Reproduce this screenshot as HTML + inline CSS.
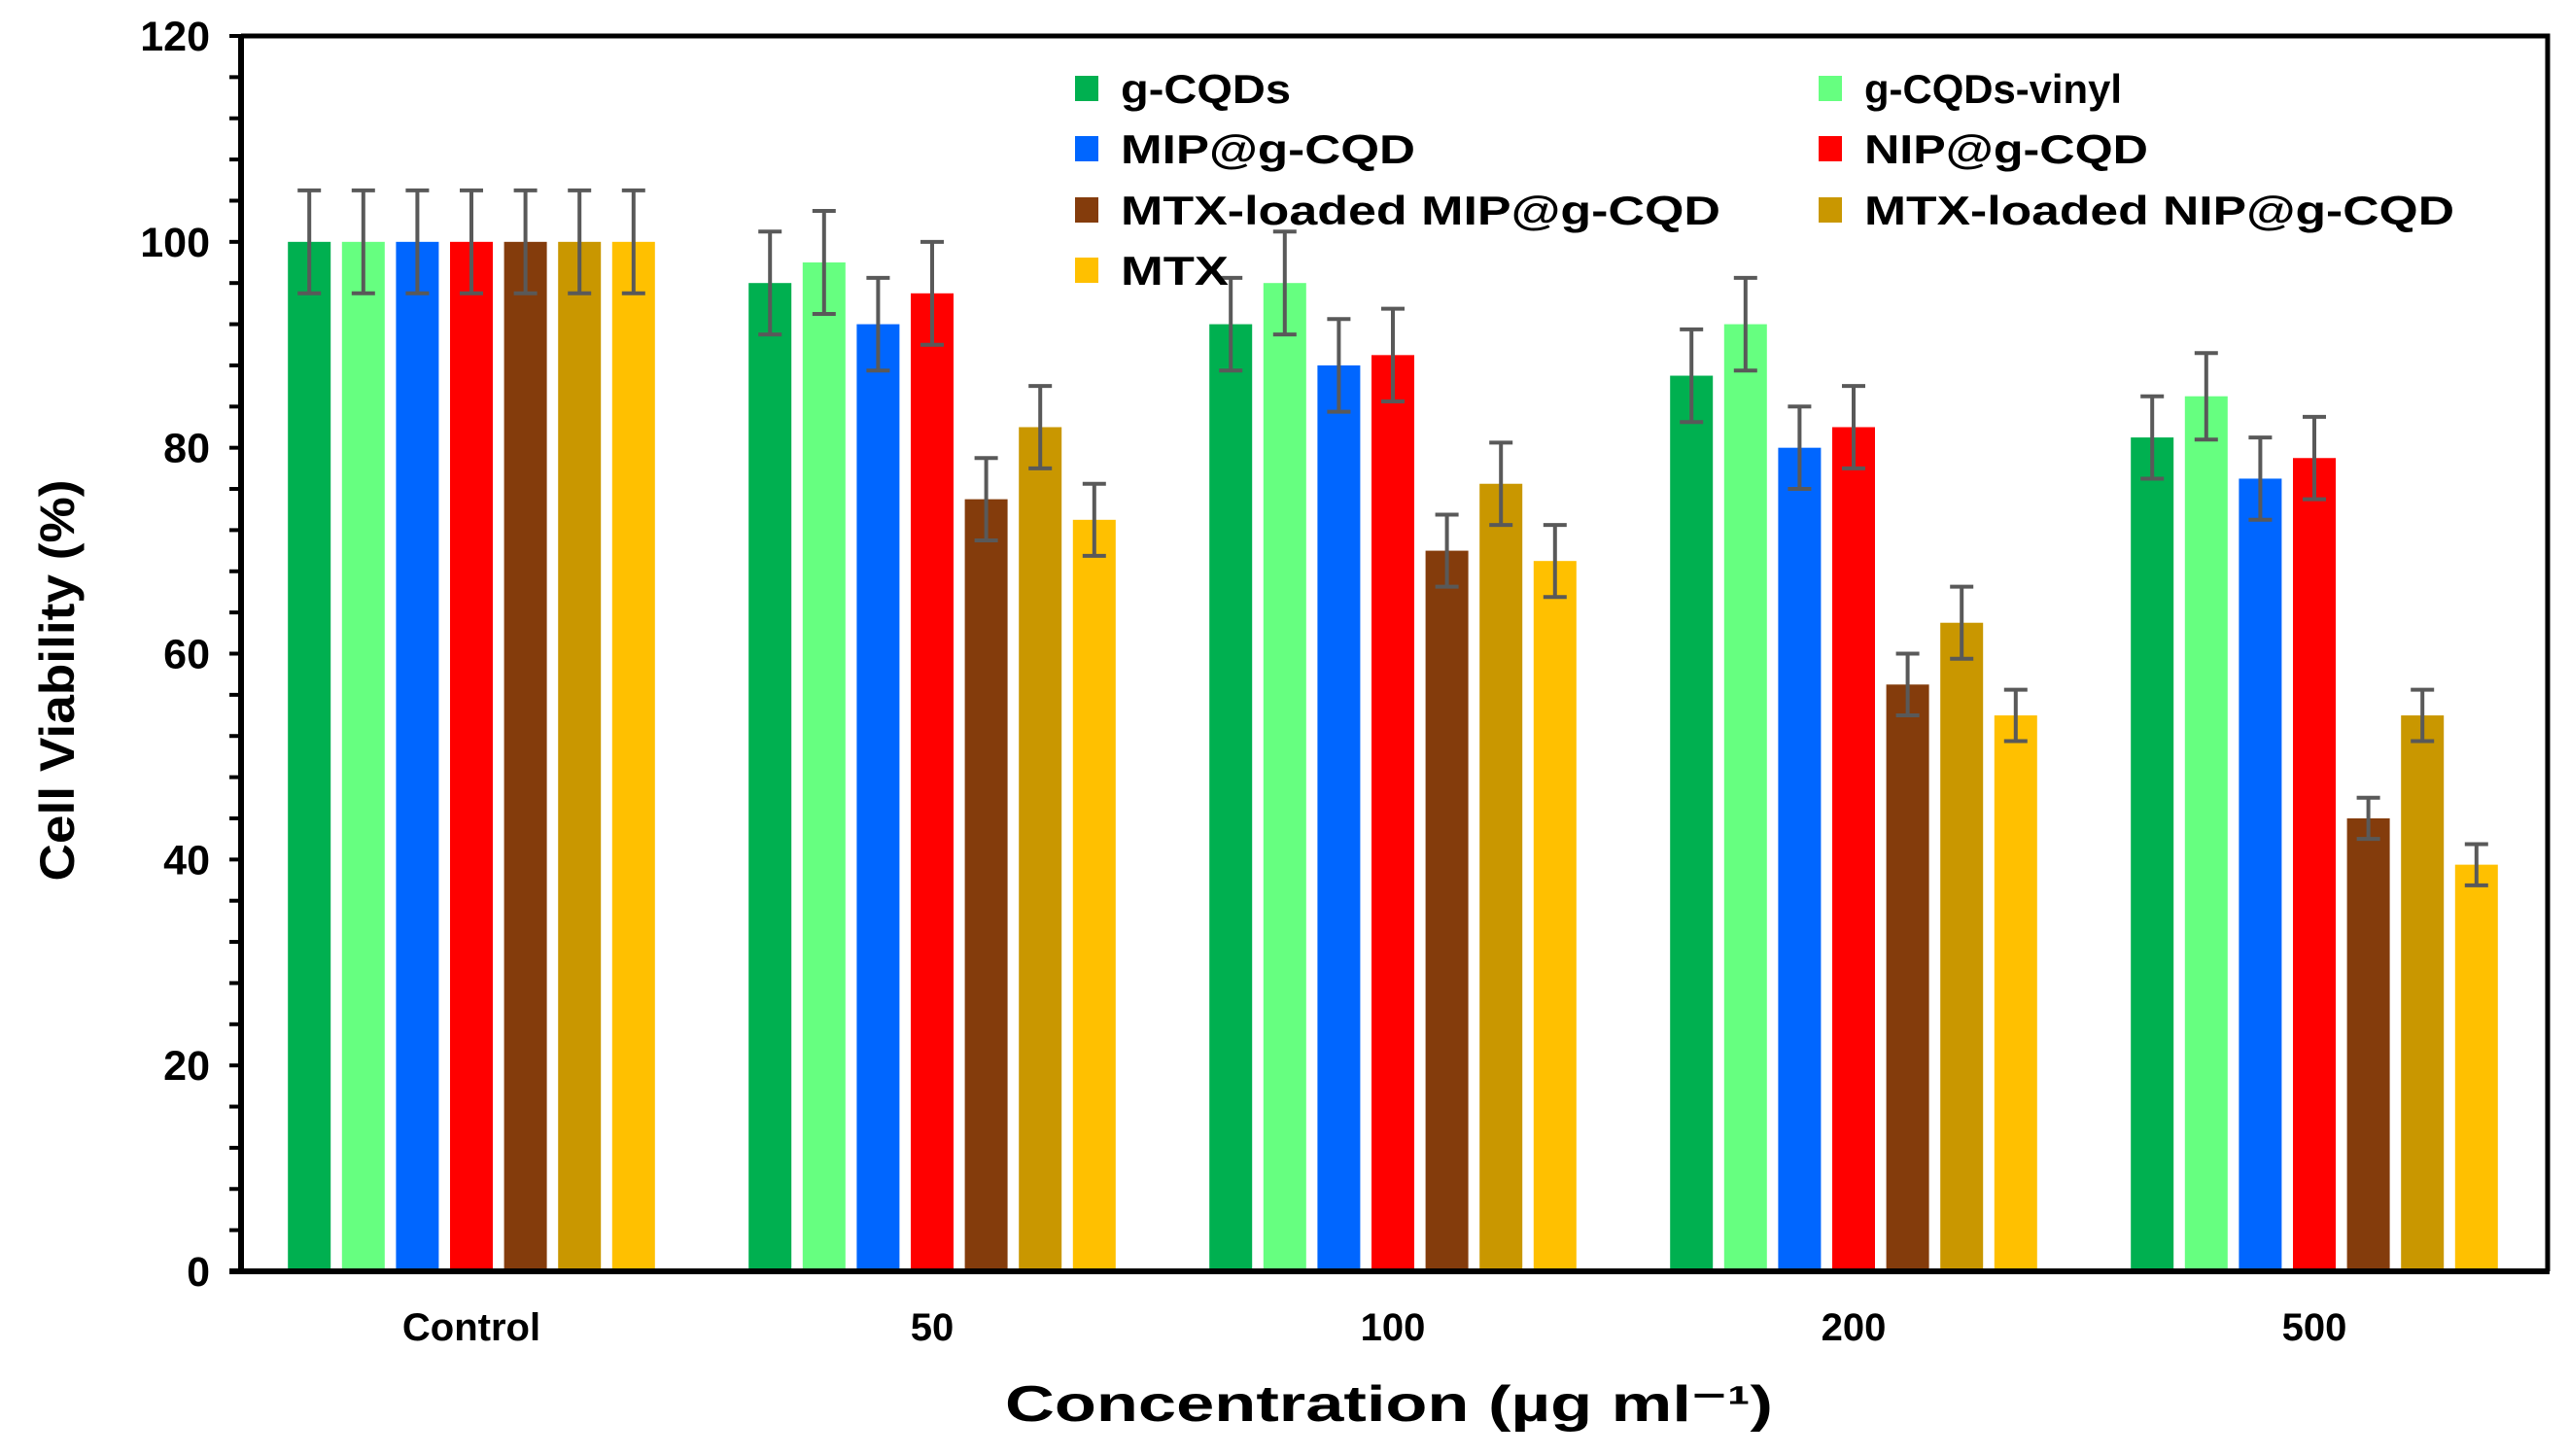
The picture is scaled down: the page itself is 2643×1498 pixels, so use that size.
<!DOCTYPE html>
<html><head><meta charset="utf-8"><style>
html,body{margin:0;padding:0;background:#fff;}
svg{display:block;font-family:"Liberation Sans",sans-serif;font-weight:bold;}
</style></head><body>
<svg id="chart" width="2643" height="1498" viewBox="0 0 2643 1498">
<g id="plot"></g>
</svg>
<script>
const categories = ["Control","50","100","200","500"];
const seriesNames = ["g-CQDs","g-CQDs-vinyl","MIP@g-CQD","NIP@g-CQD","MTX-loaded MIP@g-CQD","MTX-loaded NIP@g-CQD","MTX"];
const seriesColors = ["#00b050","#66ff80","#0066ff","#ff0000","#843c0c","#c99700","#ffc000"];
const gCQDs = [100,96,92,87,81];
const gCQDsVinyl = [100,98,96,92,85];
const mipCQD = [100,92,88,80,77];
const nipCQD = [100,95,89,82,79];
const mtxMip = [100,75,70,57,44];
const mtxNip = [100,82,76.5,63,54];
const mtx = [100,73,69,54,39.5];
const errG = [5,5,4.5,4.5,4];
const errGV = [5,5,5,4.5,4.2];
const errMip = [5,4.5,4.5,4,4];
const errNip = [5,5,4.5,4,4];
const errMtxMip = [5,4,3.5,3,2];
const errMtxNip = [5,4,4,3.5,2.5];
const errMtx = [5,3.5,3.5,2.5,2];
const yTicks = [0,20,40,60,80,100,120];

const series = [gCQDs,gCQDsVinyl,mipCQD,nipCQD,mtxMip,mtxNip,mtx];
const errs = [errG,errGV,errMip,errNip,errMtxMip,errMtxNip,errMtx];
const NS = "http://www.w3.org/2000/svg";
const g = document.getElementById('plot');
const L=248, R=2621, T=37, B=1308, YMAX=120;
const y = v => B - v/YMAX*(B-T);
const xc = i => 485 + i*474;
const step = 55.6, bw = 44;
function el(tag, attrs, txt){const e=document.createElementNS(NS,tag);for(const k in attrs)e.setAttribute(k,attrs[k]);if(txt!==undefined)e.textContent=txt;g.appendChild(e);return e;}

series.forEach((vals, s) => {
  vals.forEach((v, i) => {
    const cx = xc(i) + (s-3)*step;
    const r = el('rect',{x:cx-bw/2,y:y(v),width:bw,height:B-y(v),fill:seriesColors[s]});
    
    
    const e = errs[s][i];
    const eb = el('path',{d:`M${cx} ${y(v+e)}V${y(v-e)}M${cx-12} ${y(v+e)}H${cx+12}M${cx-12} ${y(v-e)}H${cx+12}`,stroke:'#595959','stroke-width':4,fill:'none'});
    
    
  });
});

const fr = el('path',{d:`M${L} ${T}H${R}V${B}`,stroke:'#000','stroke-width':5,fill:'none'});


const ya = el('path',{d:`M${L} ${T-2}V${B+2}`,stroke:'#000','stroke-width':6});


const xa = el('path',{d:`M${L-12} ${B}H${R+2}`,stroke:'#000','stroke-width':6});



for(let v=0; v<=YMAX; v+=4){
  const t = el('path',{d:`M${L-12} ${y(v)}H${L}`,stroke:'#000','stroke-width':4});
  
  
}
yTicks.forEach(v => {
  const t = el('text',{x:216,y:y(v)+15,'text-anchor':'end','font-size':43,fill:'#000'},String(v));
  
  
});
categories.forEach((c,i) => {
  const t = el('text',{x:xc(i),y:1379,'text-anchor':'middle','font-size':40,fill:'#000'},c);
  
  
});

const xt = el('text',{x:1429,y:1462,'text-anchor':'middle','font-size':52,fill:'#000',textLength:790,lengthAdjust:'spacingAndGlyphs'},'Concentration (µg ml⁻¹)');


const yt = el('text',{x:0,y:0,'text-anchor':'middle','font-size':50,fill:'#000',textLength:413,lengthAdjust:'spacingAndGlyphs',transform:'translate(76 700) rotate(-90)'},'Cell Viability (%)');



const lx = [1106,1871], ly = [91,153,216,278];
const lw = [[175,265],[303,292],[617,607],[111,0]];
seriesNames.forEach((n,s) => {
  const col = s%2, row = Math.floor(s/2);
  const sw = el('rect',{x:lx[col],y:ly[row]-13,width:24,height:26,fill:seriesColors[s]});
  
  
  const t = el('text',{x:lx[col]+47,y:ly[row]+15,'font-size':42,fill:'#000',textLength:lw[row][col],lengthAdjust:'spacingAndGlyphs'},n);
  
  
});
</script>
</body></html>
